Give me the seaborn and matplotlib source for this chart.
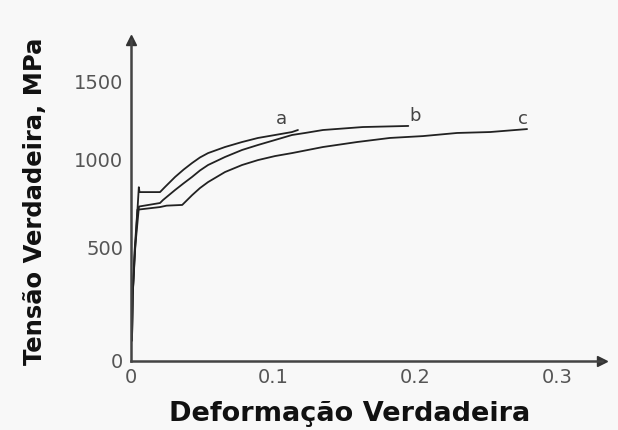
import numpy as np
import pandas as pd
import matplotlib
matplotlib.use("Agg")
import matplotlib.pyplot as plt
import seaborn as sns

# ---- data (true strain, true stress MPa) ----
curve_names = ["a", "b", "c"]

strain_a = [0.0007, 0.0012, 0.0030, 0.0055, 0.0060, 0.0204, 0.0239, 0.0310, 0.0370, 0.0429,
            0.0485, 0.0542, 0.0661, 0.0781, 0.0893, 0.1013, 0.1132, 0.1174]
stress_a = [90, 290, 500, 840, 812, 812, 841, 898, 940, 977,
            1010, 1038, 1077, 1109, 1135, 1154, 1173, 1186]

strain_b = [0.0007, 0.0012, 0.0028, 0.0056, 0.0204, 0.0225, 0.0310, 0.0370, 0.0429, 0.0485,
            0.0542, 0.0661, 0.0781, 0.0893, 0.1013, 0.1132, 0.1224, 0.1350, 0.1630, 0.1950]
stress_b = [90, 290, 490, 730, 750, 767, 824, 862, 898, 935,
            966, 1013, 1058, 1090, 1122, 1154, 1167, 1186, 1205, 1212]

strain_c = [0.0007, 0.0012, 0.0025, 0.0045, 0.0204, 0.0250, 0.0360, 0.0430, 0.0485, 0.0542,
            0.0661, 0.0781, 0.0893, 0.1013, 0.1132, 0.1350, 0.1590, 0.1820, 0.2053, 0.2293,
            0.2525, 0.2785]
stress_c = [90, 290, 480, 712, 727, 735, 739, 795, 835, 869,
            926, 966, 994, 1019, 1038, 1077, 1109, 1135, 1147, 1167,
            1173, 1192]

label_x = [0.106, 0.200, 0.2755]
label_y = [1256, 1276, 1256]

y_ticks = [0, 500, 1000, 1500]
x_ticks = [0, 0.1, 0.2, 0.3]
x_tick_labels = ["0", "0.1", "0.2", "0.3"]

df = pd.concat([
    pd.DataFrame({"strain": strain_a, "stress": stress_a, "curve": "a"}),
    pd.DataFrame({"strain": strain_b, "stress": stress_b, "curve": "b"}),
    pd.DataFrame({"strain": strain_c, "stress": stress_c, "curve": "c"}),
], ignore_index=True)

# ---- styling ----
sns.set_theme(style="white")
plt.rcParams["font.family"] = ["DejaVu Sans"]

fig = plt.figure(figsize=(6.18, 4.30), dpi=100)
fig.patch.set_facecolor("#f8f8f8")
ax = fig.add_axes([131 / 618, 69 / 430, 471 / 618, 321 / 430])
ax.set_facecolor("#f8f8f8")

# non-uniform vertical scale as in the scanned original
V = np.array([-500.0, 0.0, 500.0, 1000.0, 1500.0, 3000.0])
H = np.array([-114.0, 0.0, 114.0, 202.0, 280.0, 514.0])
fwd = lambda v: np.interp(v, V, H)
inv = lambda h: np.interp(h, H, V)
ax.set_yscale("function", functions=(fwd, inv))

sns.lineplot(data=df, x="strain", y="stress", hue="curve", units="curve",
             estimator=None, sort=False, legend=False,
             palette={"a": "#222222", "b": "#222222", "c": "#222222"},
             linewidth=1.3, ax=ax)

for name, lx, ly in zip(curve_names, label_x, label_y):
    ax.text(lx, ly, name, ha="center", va="center", fontsize=13, color="#444444")

ax.set_xlim(0, 0.3312)
ax.set_ylim(0, 1763)
ax.set_xticks(x_ticks)
ax.set_xticklabels(x_tick_labels)
ax.set_yticks(y_ticks)
ax.set_yticklabels([str(t) for t in y_ticks])

for s in ["top", "right"]:
    ax.spines[s].set_visible(False)
for s in ["left", "bottom"]:
    ax.spines[s].set_color("#444444")
    ax.spines[s].set_linewidth(1.8)

ax.tick_params(axis="y", direction="out", length=4.5, width=1.2, color="#444444",
               labelsize=14, labelcolor="#555555", pad=1)
ax.tick_params(axis="x", direction="in", length=3, width=1.2, color="#444444",
               labelsize=14, labelcolor="#555555", pad=5)
ax.set_xlabel("")
ax.set_ylabel("")

# arrow heads on axes
ax.plot([1], [0], marker=">", markersize=7, color="#333333", transform=ax.transAxes, clip_on=False)
ax.plot([0], [1], marker="^", markersize=7, color="#333333", transform=ax.transAxes, clip_on=False)

fig.text(350 / 618, 1 - 414 / 430, "Deformação Verdadeira", ha="center", va="center",
         fontsize=19.5, fontweight="bold", color="#111111")
fig.text(35 / 618, 1 - 201 / 430, "Tensão Verdadeira, MPa", ha="center", va="center",
         rotation=90, fontsize=17.5, fontweight="bold", color="#111111")

fig.savefig("out.png", dpi=100, facecolor=fig.get_facecolor())
